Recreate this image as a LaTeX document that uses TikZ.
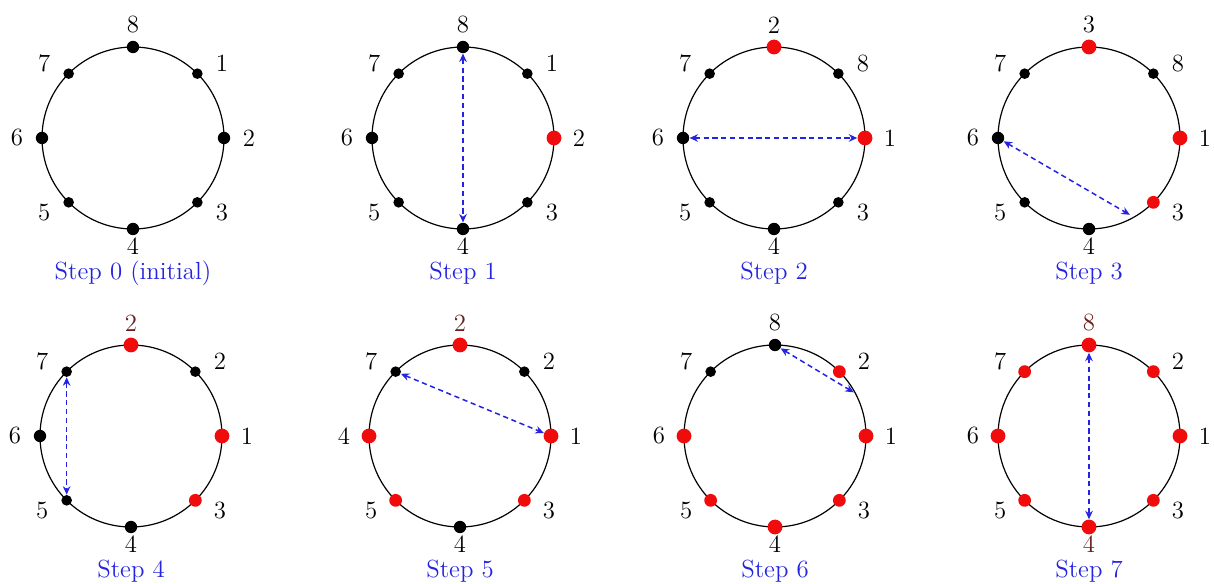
\documentclass[tikz,border=0pt]{standalone}
\usetikzlibrary{arrows.meta}
\definecolor{stepblue}{RGB}{35,35,225}
\definecolor{dotred}{RGB}{240,12,12}
\definecolor{lblred}{RGB}{105,28,28}
\tikzset{
  ring/.style={draw=black, line width=0.6pt},
  bc/.style={circle, fill=black, inner sep=0pt, minimum size=6.2pt},
  bd/.style={circle, fill=black, inner sep=0pt, minimum size=5.3pt},
  rc/.style={circle, fill=dotred, inner sep=0pt, minimum size=7.4pt},
  rd/.style={circle, fill=dotred, inner sep=0pt, minimum size=6.4pt},
  lbl/.style={font=\fontsize{12.4}{14}\selectfont, inner sep=0pt},
  steplbl/.style={font=\fontsize{12.4}{14}\selectfont, text=stepblue, inner sep=0pt},
  swap/.style={draw=stepblue, dash pattern=on 2.6pt off 1.8pt, line width=0.75pt,
    {Stealth[length=4.2pt,width=3.8pt]}-{Stealth[length=4.2pt,width=3.8pt]}},
}
% #1 name, #2 cx, #3 cy, #4 step text, #5 specs pos/angle/label/style/labelcolor
\newcommand\ringpanel[5]{%
  \begin{scope}[shift={(#2,#3)}]
    \draw[ring] (0,0) circle (91);
    \foreach \p/\a/\l/\s/\c in {#5} {
      \pgfmathsetmacro\la{\a - 5*sin(2*\a)}
      \pgfmathsetmacro\lr{\a==-90 ? 108 : (\a==90 ? 113 : 116)}
      \node[\s] (#1-\p) at (\a:91) {};
      \node[lbl, text=\c] (#1-l\p) at (\la:\lr) {\l};
    }
    \node[steplbl] (#1-step) at (0,-135) {#4};
  \end{scope}}
\begin{document}
\begin{tikzpicture}[x=0.5pt,y=0.5pt]
\useasboundingbox (0,0) rectangle (1214,583);
% Row 1
\ringpanel{sa}{133}{445}{Step 0 (initial)}{n/90/8/bc/black, ne/45/1/bd/black, e/0/2/bc/black, se/-45/3/bd/black, s/-90/4/bc/black, sw/-135/5/bd/black, w/180/6/bc/black, nw/135/7/bd/black}
\ringpanel{sb}{463}{445}{Step 1}{n/90/8/bc/black, ne/45/1/bd/black, e/0/2/rc/black, se/-45/3/bd/black, s/-90/4/bc/black, sw/-135/5/bd/black, w/180/6/bc/black, nw/135/7/bd/black}
\draw[swap] (sb-n) -- (sb-s);
\ringpanel{sc}{774}{445}{Step 2}{n/90/2/rc/black, ne/45/8/bd/black, e/0/1/rc/black, se/-45/3/bd/black, s/-90/4/bc/black, sw/-135/5/bd/black, w/180/6/bc/black, nw/135/7/bd/black}
\draw[swap] (sc-w) -- (sc-e);
\ringpanel{sd}{1089}{445}{Step 3}{n/90/3/rc/black, ne/45/8/bd/black, e/0/1/rc/black, se/-45/3/rd/black, s/-90/4/bc/black, sw/-135/5/bd/black, w/180/6/bc/black, nw/135/7/bd/black}
\coordinate (sd-t) at ([shift={(-62:87)}]1089,445);
\draw[swap] (sd-w) -- (sd-t);
% Row 2
\ringpanel{se}{131}{147}{Step 4}{n/90/2/rc/lblred, ne/45/2/bd/black, e/0/1/rc/black, se/-45/3/rd/black, s/-90/4/bc/black, sw/-135/5/bd/black, w/180/6/bc/black, nw/135/7/bd/black}
\draw[swap] (se-nw) -- (se-sw);
\ringpanel{sf}{460}{147}{Step 5}{n/90/2/rc/lblred, ne/45/2/bd/black, e/0/1/rc/black, se/-45/3/rd/black, s/-90/4/bc/black, sw/-135/5/rd/black, w/180/4/rc/black, nw/135/7/bd/black}
\draw[swap] (sf-nw) -- (sf-e);
\ringpanel{sg}{775}{147}{Step 6}{n/90/8/bc/black, ne/45/2/rd/black, e/0/1/rc/black, se/-45/3/rd/black, s/-90/4/rc/black, sw/-135/5/rd/black, w/180/6/rc/black, nw/135/7/bd/black}
\coordinate (sg-t) at ([shift={(29:90)}]775,147);
\draw[swap] (sg-n) -- (sg-t);
\ringpanel{sh}{1089}{147}{Step 7}{n/90/8/rc/lblred, ne/45/2/rd/black, e/0/1/rc/black, se/-45/3/rd/black, s/-90/4/rc/lblred, sw/-135/5/rd/black, w/180/6/rc/black, nw/135/7/rd/black}
\draw[swap] (sh-n) -- (sh-s);
\end{tikzpicture}
\end{document}
